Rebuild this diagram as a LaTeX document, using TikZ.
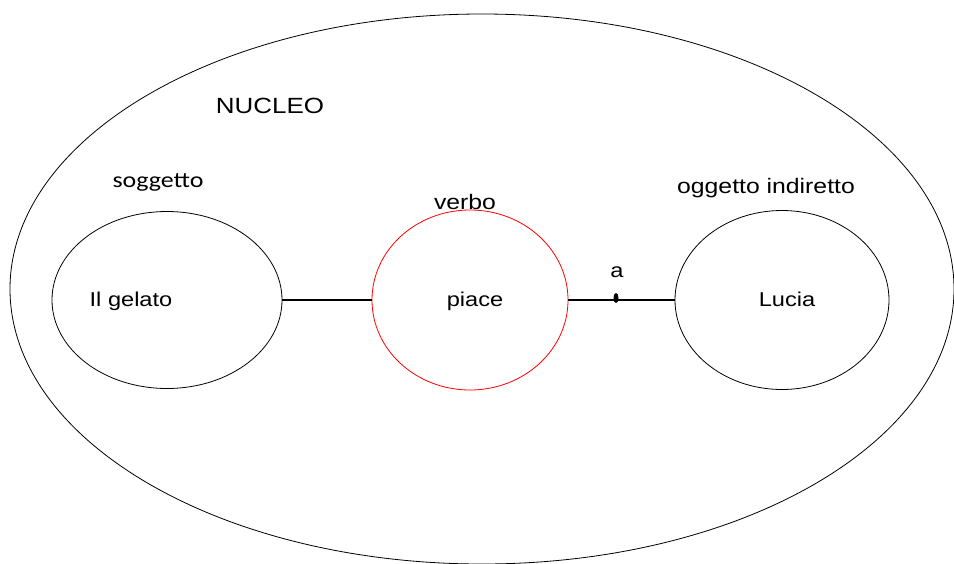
\documentclass[tikz,border=0pt]{standalone}
\usepackage{fontspec}
\setmainfont{Liberation Sans}[FakeStretch=1.18]
\newfontfamily\calibrifont{Carlito}[FakeStretch=1.18]
\usepackage{tikz}
\usetikzlibrary{shapes,positioning}
\tikzset{word oval/.style={
    draw, ellipse,
    minimum width=2*#1,
    inner sep=0pt,
    line width=0.8pt
  },
  word oval/.default=100pt,
  word text/.style={anchor=base, inner sep=0pt, font=\fontsize{20}{24}\selectfont},
  role text/.style={anchor=base, inner sep=0pt, font=\fontsize{21}{25}\selectfont},
  link/.style={line width=2.8pt}
}

\begin{document}
\begin{tikzpicture}[x=1pt,y=-1pt]
    \useasboundingbox (0,0) rectangle (954,563);
    % outer nucleus
    \node[word oval=472pt, minimum height=550pt] (nucleo) at (482,289) {};
    \node[anchor=base, inner sep=0pt, font=\fontsize{22}{26}\selectfont] (nucleolabel) at (270,113) {NUCLEO};

    % the three parts
    \node[word oval=115pt, minimum height=177pt] (sogg) at (167,300) {};
    \node[word oval=98pt, minimum height=180pt, draw=red] (verbo) at (470,300) {};
    \node[word oval=107pt, minimum height=179pt] (ogg) at (782,300) {};

    \node[word text] (gelato) at (131,306) {Il gelato};
    \node[word text] (piace) at (475,306) {piace};
    \node[word text] (lucia) at (787,306) {Lucia};

    \node[anchor=base, inner sep=0pt, font=\calibrifont\fontsize{22}{26}\selectfont] (soggtext) at (158,187) {soggetto};
    \node[role text] (verbotext) at (465,209) {verbo};
    \node[role text] (oggtext) at (766,193) {oggetto indiretto};

    % preposition
    \node[ellipse, fill=black, minimum width=5pt, minimum height=10pt, inner sep=0pt] (prep) at (616,298) {};
    \node[word text] (prepa) at (617,277) {a};

    \draw[link] (sogg) -- (verbo);
    \draw[link] (verbo) -- (ogg);
\end{tikzpicture}
\end{document}
